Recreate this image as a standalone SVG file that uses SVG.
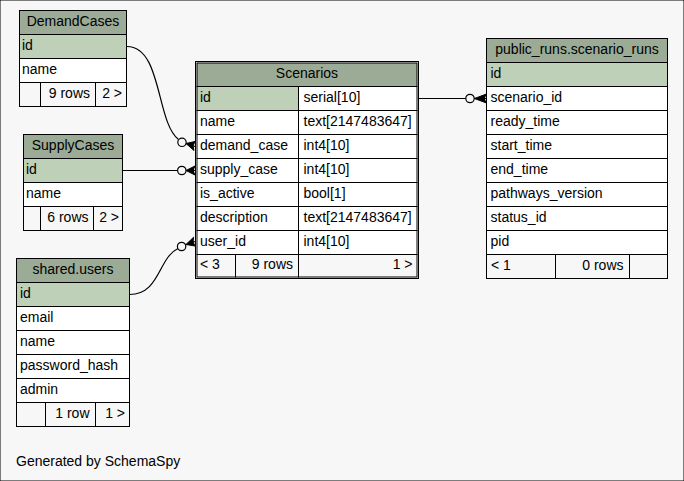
<svg xmlns="http://www.w3.org/2000/svg" width="684" height="481" viewBox="0 0 684 481">
<style>
text{font-family:"Liberation Sans",Arial,sans-serif;font-size:14px;fill:#000}
.m{text-anchor:middle}.e{text-anchor:end}
rect{stroke:#000;stroke-width:1}
.hdr{fill:#9bab96}.pk{fill:#bed1b8}.row{fill:#fff}.ftr{fill:#f7f7f7}
.edge{fill:none;stroke:#000;stroke-width:1.2}
.dot{fill:#f7f7f7;stroke:#000;stroke-width:1.2}
.crow{fill:#000;stroke:#000;stroke-width:1}
</style>
<rect x="0" y="0" width="684" height="481" fill="#f7f7f7" stroke="none"/>

<g id="DemandCases">
<rect class="hdr" x="19.5" y="10.5" width="107" height="24"/>
<rect class="pk" x="19.5" y="34.5" width="107" height="24"/>
<rect class="row" x="19.5" y="58.5" width="107" height="24"/>
<rect class="ftr" x="19.5" y="82.5" width="21" height="24"/>
<rect class="ftr" x="40.5" y="82.5" width="55" height="24"/>
<rect class="ftr" x="95.5" y="82.5" width="31" height="24"/>
<text class="m" x="73" y="26">DemandCases</text>
<text x="22" y="50">id</text>
<text x="22" y="74">name</text>
<text class="e" x="90" y="98">9 rows</text>
<text class="e" x="122" y="98">2 &gt;</text>
</g>

<g id="SupplyCases">
<rect class="hdr" x="23.5" y="134.5" width="99" height="24"/>
<rect class="pk" x="23.5" y="158.5" width="99" height="24"/>
<rect class="row" x="23.5" y="182.5" width="99" height="24"/>
<rect class="ftr" x="23.5" y="206.5" width="17" height="24"/>
<rect class="ftr" x="40.5" y="206.5" width="53" height="24"/>
<rect class="ftr" x="93.5" y="206.5" width="29" height="24"/>
<text class="m" x="73" y="150">SupplyCases</text>
<text x="26" y="174">id</text>
<text x="26" y="198">name</text>
<text class="e" x="88.5" y="222">6 rows</text>
<text class="e" x="119" y="222">2 &gt;</text>
</g>

<g id="Scenarios">
<rect class="hdr" x="197" y="63" width="220" height="23.5"/>
<rect class="pk" x="197" y="86.5" width="101.5" height="24"/>
<rect class="row" x="298.5" y="86.5" width="118.5" height="24"/>
<rect class="row" x="197" y="110.5" width="101.5" height="24"/>
<rect class="row" x="298.5" y="110.5" width="118.5" height="24"/>
<rect class="row" x="197" y="134.5" width="101.5" height="24"/>
<rect class="row" x="298.5" y="134.5" width="118.5" height="24"/>
<rect class="row" x="197" y="158.5" width="101.5" height="24"/>
<rect class="row" x="298.5" y="158.5" width="118.5" height="24"/>
<rect class="row" x="197" y="182.5" width="101.5" height="24"/>
<rect class="row" x="298.5" y="182.5" width="118.5" height="24"/>
<rect class="row" x="197" y="206.5" width="101.5" height="24"/>
<rect class="row" x="298.5" y="206.5" width="118.5" height="24"/>
<rect class="row" x="197" y="230.5" width="101.5" height="24"/>
<rect class="row" x="298.5" y="230.5" width="118.5" height="24"/>
<rect class="ftr" x="197" y="254.5" width="38.5" height="22.5"/>
<rect class="ftr" x="235.5" y="254.5" width="63" height="22.5"/>
<rect class="ftr" x="298.5" y="254.5" width="118.5" height="22.5"/>
<rect x="195.5" y="61.5" width="223" height="217" fill="none" stroke-width="3"/>
<text class="m" x="307" y="78">Scenarios</text>
<text x="200" y="102">id</text><text x="303.5" y="102">serial[10]</text>
<text x="200" y="126">name</text><text x="303.5" y="126">text[2147483647]</text>
<text x="200" y="150">demand_case</text><text x="303.5" y="150">int4[10]</text>
<text x="200" y="174">supply_case</text><text x="303.5" y="174">int4[10]</text>
<text x="200" y="198">is_active</text><text x="303.5" y="198">bool[1]</text>
<text x="200" y="222">description</text><text x="303.5" y="222">text[2147483647]</text>
<text x="200" y="246">user_id</text><text x="303.5" y="246">int4[10]</text>
<text x="200" y="269">&lt; 3</text>
<text class="e" x="293" y="269">9 rows</text>
<text class="e" x="412.5" y="269">1 &gt;</text>
</g>

<g id="scenario_runs">
<rect class="hdr" x="486.5" y="38.5" width="181" height="24"/>
<rect class="pk" x="486.5" y="62.5" width="181" height="24"/>
<rect class="row" x="486.5" y="86.5" width="181" height="24"/>
<rect class="row" x="486.5" y="110.5" width="181" height="24"/>
<rect class="row" x="486.5" y="134.5" width="181" height="24"/>
<rect class="row" x="486.5" y="158.5" width="181" height="24"/>
<rect class="row" x="486.5" y="182.5" width="181" height="24"/>
<rect class="row" x="486.5" y="206.5" width="181" height="24"/>
<rect class="row" x="486.5" y="230.5" width="181" height="24"/>
<rect class="ftr" x="486.5" y="254.5" width="69" height="24"/>
<rect class="ftr" x="555.5" y="254.5" width="74" height="24"/>
<rect class="ftr" x="629.5" y="254.5" width="38" height="24"/>
<text class="m" x="577" y="54">public_runs.scenario_runs</text>
<text x="490.5" y="78">id</text>
<text x="490.5" y="102">scenario_id</text>
<text x="490.5" y="126">ready_time</text>
<text x="490.5" y="150">start_time</text>
<text x="490.5" y="174">end_time</text>
<text x="490.5" y="198">pathways_version</text>
<text x="490.5" y="222">status_id</text>
<text x="490.5" y="246">pid</text>
<text x="491" y="270">&lt; 1</text>
<text class="e" x="623.5" y="270">0 rows</text>
</g>

<g id="shared_users">
<rect class="hdr" x="16.5" y="258.5" width="113" height="24"/>
<rect class="pk" x="16.5" y="282.5" width="113" height="24"/>
<rect class="row" x="16.5" y="306.5" width="113" height="24"/>
<rect class="row" x="16.5" y="330.5" width="113" height="24"/>
<rect class="row" x="16.5" y="354.5" width="113" height="24"/>
<rect class="row" x="16.5" y="378.5" width="113" height="24"/>
<rect class="ftr" x="16.5" y="402.5" width="29" height="24"/>
<rect class="ftr" x="45.5" y="402.5" width="50" height="24"/>
<rect class="ftr" x="95.5" y="402.5" width="34" height="24"/>
<text class="m" x="73" y="274">shared.users</text>
<text x="20" y="298">id</text>
<text x="20" y="322">email</text>
<text x="20" y="346">name</text>
<text x="20" y="370">password_hash</text>
<text x="20" y="394">admin</text>
<text class="e" x="89.5" y="418">1 row</text>
<text class="e" x="125" y="418">1 &gt;</text>
</g>

<g id="connectors">
<path class="edge" d="M127,46.5 C162,46.5 156,122 178.5,139.5"/>
<circle class="dot" cx="182" cy="142.3" r="4.2"/>
<path class="edge" d="M186,143.5 L195,146.5"/>
<polygon class="crow" points="186,143.5 195,141.5 193,146 194,150.5"/>

<path class="edge" d="M122.5,170.5 H177.5"/>
<circle class="dot" cx="181.8" cy="170.5" r="4.2"/>
<path class="edge" d="M186,170.5 H195"/>
<polygon class="crow" points="186,170.5 195,166 193,170.5 195,175"/>

<path class="edge" d="M129.5,294.5 C160,294.5 158,258 178,248.5"/>
<circle class="dot" cx="181.6" cy="246.5" r="4.2"/>
<path class="edge" d="M186,244.5 L195,241.5"/>
<polygon class="crow" points="186,244.5 193.6,237.2 193.1,242.1 195,246"/>

<path class="edge" d="M418,98.5 H466"/>
<circle class="dot" cx="470" cy="98.5" r="4.2"/>
<path class="edge" d="M474,98.5 H487"/>
<polygon class="crow" points="474.5,98.5 486.5,94 484,98.5 486.5,103"/>
</g>

<text x="16" y="466">Generated by SchemaSpy</text>
</svg>
